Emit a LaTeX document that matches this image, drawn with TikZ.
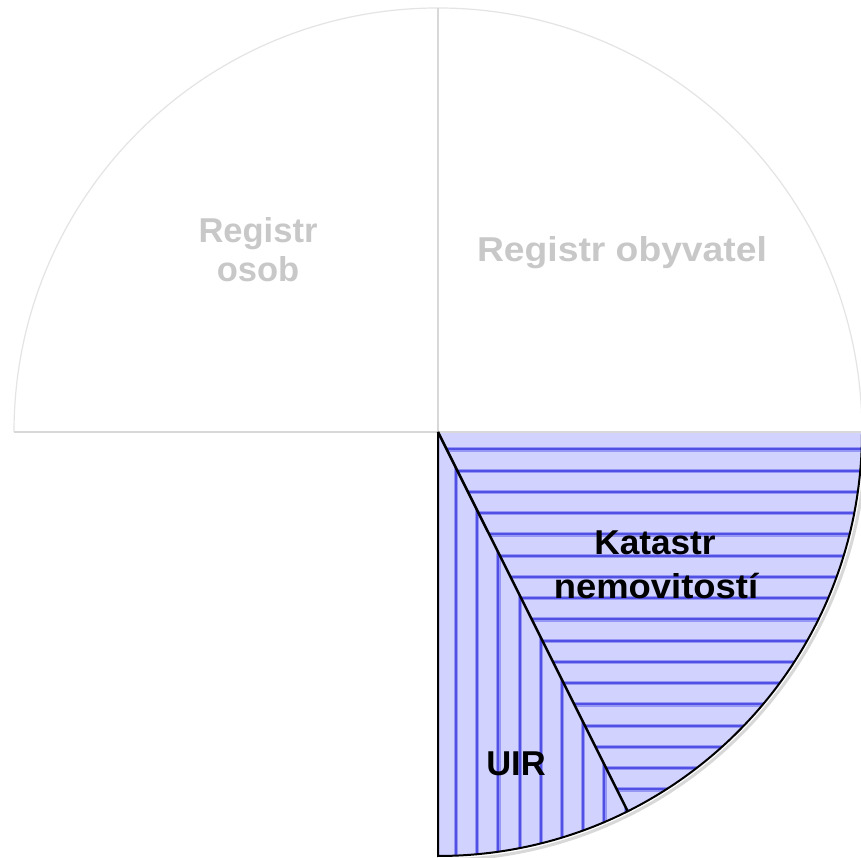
\documentclass[tikz,border=0pt]{standalone}
\usepackage{fontspec}
\setmainfont{Liberation Sans}
\begin{document}
\begin{tikzpicture}[x=1pt,y=1pt]
\definecolor{pietext}{RGB}{200,200,200}
\definecolor{pieline}{RGB}{216,216,216}
\definecolor{piearc}{RGB}{228,228,228}
\definecolor{fillblue}{RGB}{210,210,255}
\definecolor{hatchcore}{RGB}{80,80,228}
\definecolor{hatchhalo}{RGB}{150,150,245}
\tikzset{
  greytext/.style={text=pietext, font=\bfseries\fontsize{34.5}{40}\selectfont, anchor=base, inner sep=0pt},
  blacktext/.style={text=black, font=\bfseries\fontsize{34.5}{40}\selectfont, anchor=base, inner sep=0pt},
  hatchhalostyle/.style={draw=hatchhalo, line width=4.2pt},
  hatchcorestyle/.style={draw=hatchcore, line width=2pt},
  outline/.style={draw=black, line width=2pt},
}
\useasboundingbox (0,0) rectangle (861,858);
\fill[white] (0,0) rectangle (861,858);
\coordinate (C) at (438,426);
\coordinate (T) at ([shift={(90:424)}]C);
\coordinate (L) at ([shift={(180:424)}]C);
\coordinate (R) at ([shift={(0:424)}]C);
\coordinate (B) at ([shift={(-90:424)}]C);
\coordinate (D) at ([shift={(-63.43:424)}]C);
% upper grey slices
\draw[piearc, line width=1.2pt] (L) arc[start angle=180, end angle=0, radius=424];
% Katastr nemovitosti
\fill[fillblue] (C) -- (R) arc[start angle=0, end angle=-63.43, radius=424] -- cycle;
\begin{scope}
  \clip (C) -- (R) arc[start angle=0, end angle=-63.43, radius=424] -- cycle;
  \foreach \i in {0,...,19} {
    \draw[hatchhalostyle] (430,{426-17.5-21.25*\i}) -- ++(440,0);
    \draw[hatchcorestyle] (430,{426-17.5-21.25*\i}) -- ++(440,0);
  }
\end{scope}
% UIR
\fill[fillblue] (C) -- (D) arc[start angle=-63.43, end angle=-90, radius=424] -- cycle;
\begin{scope}
  \clip (C) -- (D) arc[start angle=-63.43, end angle=-90, radius=424] -- cycle;
  \foreach \i in {0,...,9} {
    \draw[hatchhalostyle] ({438+18+21.2*\i},430) -- ++(0,-440);
    \draw[hatchcorestyle] ({438+18+21.2*\i},430) -- ++(0,-440);
  }
\end{scope}
% grey dividers
\draw[pieline, line width=2.5pt] (C) -- (T);
\draw[pieline, line width=2pt] (L) -- (R);
% shadow and outline
\draw[pieline, line width=3pt] ([shift={(-90:428)}]C) arc[start angle=-90, end angle=0, radius=428];
\draw[outline] (C) -- (B) arc[start angle=-90, end angle=0, radius=424];
\draw[outline, line width=2.5pt] (C) -- (D);
% labels
\node[greytext] (ro1) at (258,615) {Registr};
\node[greytext] (ro2) at (258,576) {osob};
\node[greytext] (rob) at (622,596) {\scalebox{1.08}[1]{Registr obyvatel}};
\node[blacktext] (kn1) at (655,303) {\scalebox{1.02}[1]{Katastr}};
\node[blacktext] (kn2) at (656,259) {\scalebox{1.055}[1]{nemovitostí}};
\node[blacktext] (uir) at (516,82) {UIR};
\end{tikzpicture}
\end{document}
